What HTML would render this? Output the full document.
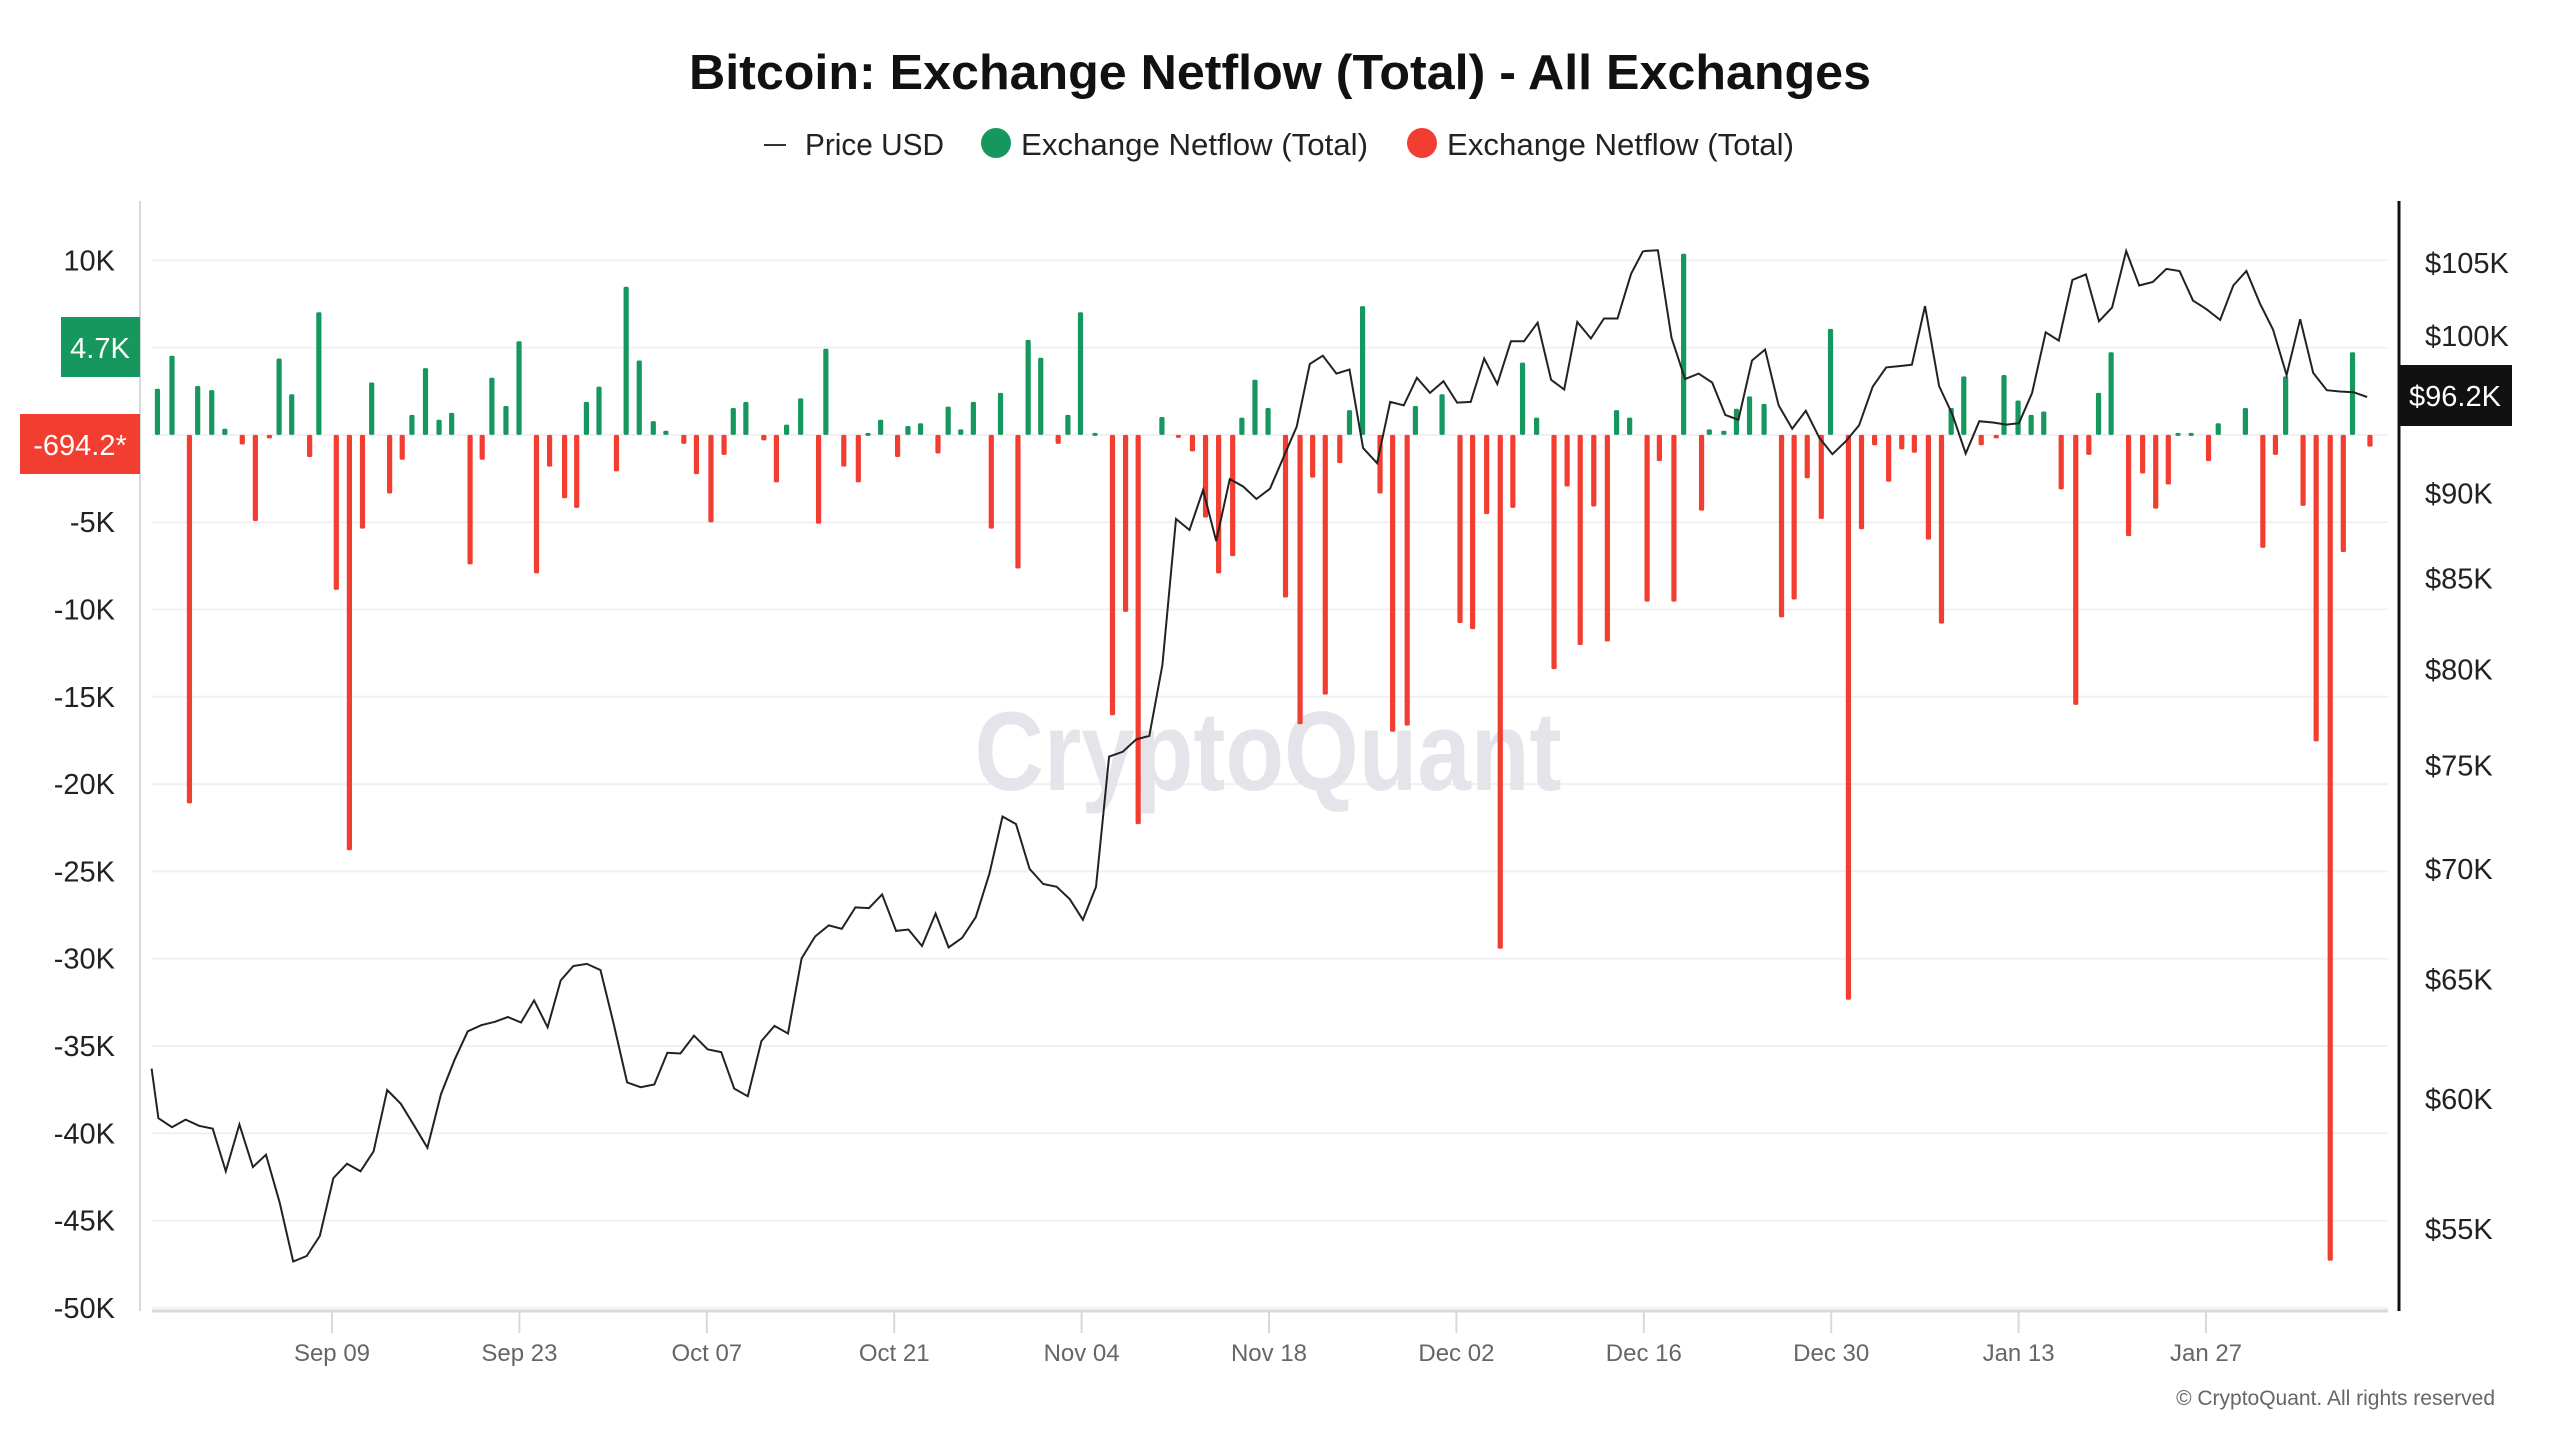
<!DOCTYPE html>
<html><head><meta charset="utf-8"><style>
html,body{margin:0;padding:0;background:#fff;}
svg{display:block;font-family:"Liberation Sans",sans-serif;}
</style></head><body>
<svg id="s" width="2560" height="1440" viewBox="0 0 2560 1440" xmlns="http://www.w3.org/2000/svg">
<rect width="2560" height="1440" fill="#fff"/>
<text x="1280" y="89" font-size="49" font-weight="bold" text-anchor="middle" fill="#111" textLength="1182" lengthAdjust="spacingAndGlyphs">Bitcoin: Exchange Netflow (Total) - All Exchanges</text>
<line x1="764" y1="145" x2="786" y2="145" stroke="#333" stroke-width="2"/>
<text x="805" y="155" font-size="31" fill="#222" textLength="139" lengthAdjust="spacingAndGlyphs">Price USD</text>
<circle cx="996" cy="143" r="15" fill="#16975e"/>
<text x="1021" y="155" font-size="31" fill="#222" textLength="347" lengthAdjust="spacingAndGlyphs">Exchange Netflow (Total)</text>
<circle cx="1422" cy="143" r="15" fill="#f23d31"/>
<text x="1447" y="155" font-size="31" fill="#222" textLength="347" lengthAdjust="spacingAndGlyphs">Exchange Netflow (Total)</text>
<g id="grid"></g>
<text x="1268" y="790" font-size="112" font-weight="bold" text-anchor="middle" fill="#e4e4ea" textLength="587" lengthAdjust="spacingAndGlyphs">CryptoQuant</text>
<g id="bars"></g>
<polyline id="price" fill="none" stroke="#222" stroke-width="2"/>
<line x1="140" y1="201" x2="140" y2="1311" stroke="#d8d8e0" stroke-width="2"/>
<line x1="152" y1="1311" x2="2388" y2="1311" stroke="#d8d8e0" stroke-width="3"/>
<line x1="2399" y1="201" x2="2399" y2="1311" stroke="#111" stroke-width="3"/>
<g id="labels" font-size="29" fill="#222"></g>
<rect x="61" y="317" width="79" height="60" fill="#16975e"/>
<text x="100" y="358" font-size="29" fill="#fff" text-anchor="middle">4.7K</text>
<rect x="20" y="414" width="120" height="60" fill="#f23d31"/>
<text x="80" y="455" font-size="29" fill="#fff" text-anchor="middle">-694.2*</text>
<rect x="2399" y="365" width="113" height="61" fill="#111"/>
<text x="2455" y="406" font-size="29" fill="#fff" text-anchor="middle">$96.2K</text>
<text x="2495" y="1405" font-size="21" fill="#666" text-anchor="end">© CryptoQuant. All rights reserved</text>
</svg>
<script>
var NS="http://www.w3.org/2000/svg";
function el(t,a,p,txt){var e=document.createElementNS(NS,t);for(var k in a)e.setAttribute(k,a[k]);if(txt!==undefined)e.textContent=txt;document.getElementById(p).appendChild(e);return e;}
var Z=434.9,S=87.3;
for(var k=2;k>=-10;k--){var y=Z-k*S;el("line",{x1:152,y1:y,x2:2388,y2:y,stroke:"#f0f0f2","stroke-width":2},"grid");
 if(k!=1&&k!=0){el("text",{x:115,y:y+10,"text-anchor":"end"},"labels",(k*5)+"K");}}
var ticks=["Sep 09","Sep 23","Oct 07","Oct 21","Nov 04","Nov 18","Dec 02","Dec 16","Dec 30","Jan 13","Jan 27"];
for(var i=0;i<ticks.length;i++){var x=332+i*187.4;el("line",{x1:x,y1:1311,x2:x,y2:1333,stroke:"#d8d8e0","stroke-width":2},"grid");
 el("text",{x:x,y:1361,"text-anchor":"middle","font-size":24,fill:"#666"},"labels",ticks[i]);}
var prices=[105,100,95,90,85,80,75,70,65,60,55];
prices.forEach(function(p){var y=263+1494*Math.log(105/p);el("text",{x:2425,y:y+10},"labels","$"+p+"K");});
var f=0.4847,g=0.6888;
var b4=[[36,67],[66,115],[102,-535],[119,71],[148,65],[175,9],[211,-14],[238,-125],[267,-5],[287,111],[313,59],[350,-32],[369,178],[405,-225],[432,-603],[459,-136],[478,76],[515,-85],[541,-36],[561,29],[589,97],[617,22],[643,32],[681,-188],[706,-36],[726,83],[755,42],[782,136],[818,-201],[845,-46],[876,-92],[901,-106],[921,48],[947,70],[983,-53],[1003,215],[1030,108],[1059,20],[1085,6],[1122,-13],[1148,-57],[1178,-127],[1205,-29],[1224,39],[1250,48],[1287,-8],[1313,-69],[1334,15],[1363,53],[1400,-129],[1415,125],[1452,-46],[1482,-69],[1502,3],[1528,22],[1563,-32]];
var b5=[[37,13],[63,17],[99,-27],[120,41],[146,8],[172,48],[209,-136],[228,61],[264,-194],[285,138],[311,112],[347,-13],[367,29],[393,178],[423,3],[459,-407],[486,-257],[512,-565],[561,26],[595,-4],[624,-24],[651,-120],[678,-201],[707,-176],[726,25],[753,80],[780,39],[816,-236],[846,-420],[872,-62],[898,-377],[928,-41],[948,36],[975,187],[1011,-85],[1037,-431],[1067,-422],[1084,42],[1139,59],[1176,-273],[1202,-282],[1231,-115],[1259,-746],[1285,-106],[1305,105],[1334,25],[1370,-340],[1397,-75],[1424,-305],[1452,-104],[1480,-300],[1499,36],[1526,25],[1562,-242]];
var b6=[[40,-38],[70,-242],[90,263],[127,-110],[143,8],[173,6],[199,38],[226,56],[256,45],[292,-265],[318,-239],[345,-63],[374,-122],[393,154],[430,-820],[457,-137],[484,-15],[513,-68],[540,-21],[566,-26],[595,-152],[622,-274],[642,39],[668,85],[704,-15],[735,-5],[751,87],[780,50],[807,29],[833,34],[869,-79],[899,-392],[926,-29],[946,61],[972,120],[1008,-147],[1037,-56],[1064,-107],[1090,-72],[1110,3],[1137,3],[1173,-38],[1193,17],[1249,39],[1285,-164],[1311,-29],[1332,85],[1368,-103],[1395,-445],[1424,-1199],[1451,-170],[1470,120],[1506,-17]];
[[140,b4],[890,b5],[1640,b6]].forEach(function(s){s[1].forEach(function(b){var x=s[0]+b[0]*f,h=b[1]*g;
 var y1=h>0?Z-h:Z,hh=Math.max(Math.abs(h),3);
 el("rect",{x:x-2.6,y:y1,width:5.2,height:hh,rx:1.5,fill:h>0?"#16975e":"#f23d31"},"bars");});});
var l4=[[24,1203],[38,1275],[66,1288],[94,1277],[122,1286],[150,1290],[177,1352],[205,1284],[233,1346],[260,1328],[288,1397],[316,1483],[344,1475],[371,1446],[399,1362],[427,1341],[455,1352],[482,1323],[510,1234],[538,1254],[566,1286],[593,1318],[621,1240],[649,1190],[676,1149],[704,1140],[732,1135],[759,1128],[786,1136],[813,1104],[841,1143],[868,1075],[894,1054],[922,1051],[950,1060],[978,1140],[1005,1223],[1033,1230],[1061,1226],[1088,1180],[1115,1181],[1143,1155],[1171,1175],[1199,1179],[1226,1232],[1254,1243],[1282,1163],[1309,1141],[1337,1152],[1365,1043],[1393,1011],[1421,995],[1448,1000],[1476,969],[1504,970],[1531,950],[1560,1003]];
var l5=[[38,1001],[66,1025],[94,978],[121,1027],[149,1013],[177,983],[205,920],[232,837],[260,848],[288,913],[316,935],[344,939],[371,957],[398,987],[425,939],[452,750],[480,743],[508,725],[535,720],[562,617],[590,405],[618,421],[646,363],[673,437],[701,347],[729,358],[756,376],[784,361],[812,315],[839,271],[866,180],[893,168],[921,194],[948,188],[976,302],[1005,324],[1032,235],[1060,240],[1087,200],[1114,222],[1142,205],[1170,236],[1198,235],[1226,172],[1253,209],[1281,147],[1308,147],[1336,120],[1364,203],[1391,217],[1418,119],[1446,143],[1473,114],[1501,114],[1529,49],[1553,17]];
var l6=[[10,16],[37,15],[65,142],[93,202],[121,194],[149,207],[176,254],[203,261],[231,175],[258,159],[286,240],[314,274],[342,248],[370,287],[397,311],[425,292],[452,269],[480,213],[508,185],[535,183],[561,181],[588,96],[617,212],[645,254],[672,310],[700,263],[728,265],[756,268],[782,266],[809,222],[837,134],[864,146],[892,58],[920,50],[947,118],[974,98],[1003,16],[1030,66],[1058,61],[1086,42],[1113,45],[1141,88],[1168,100],[1197,116],[1224,66],[1251,45],[1279,92],[1306,130],[1334,196],[1362,115],[1389,193],[1417,218],[1444,220],[1472,221],[1500,228]];
var pts=[];
[[140,l4],[890,l5],[1640,l6]].forEach(function(s){s[1].forEach(function(p){pts.push((s[0]+p[0]*f).toFixed(1)+","+(240+p[1]*g).toFixed(1));});});
document.getElementById("price").setAttribute("points",pts.join(" "));
</script>
</body></html>
